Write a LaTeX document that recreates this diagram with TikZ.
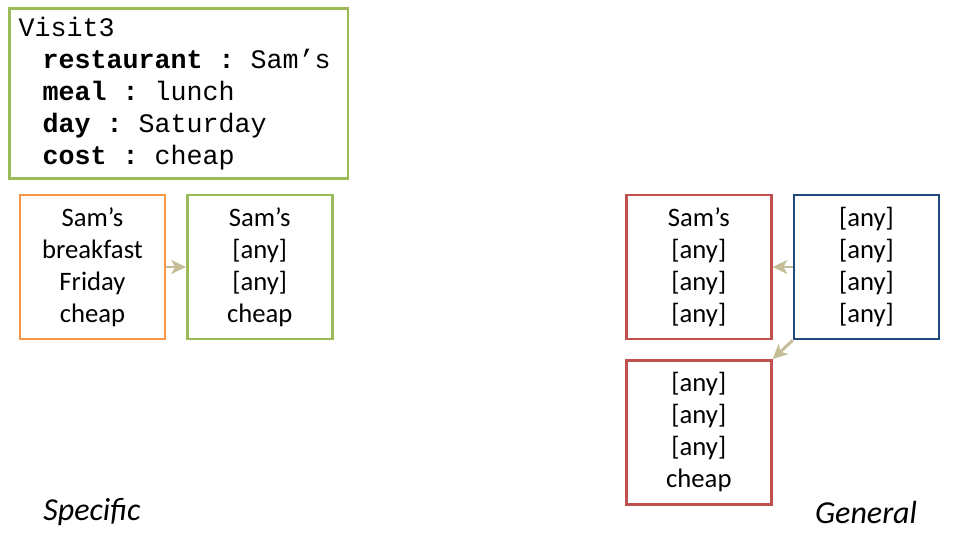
\documentclass[tikz,border=0pt]{standalone}
\usepackage{fontspec}
\setmainfont{Carlito}
\newfontfamily\monofont{Liberation Mono}
\usetikzlibrary{arrows,arrows.meta,calc,positioning}
\definecolor{boxgreen}{HTML}{9BBB59}
\definecolor{boxorange}{HTML}{F79646}
\definecolor{boxred}{HTML}{C0504D}
\definecolor{boxblue}{HTML}{1F497D}
\definecolor{arrowtan}{HTML}{C4BD97}
\newcommand{\slot}[2]{\hspace*{18pt}\textbf{#1}\hspace{12pt}\textbf{:}\hspace{12pt}#2}
\tikzset{
        block/.style = {draw, rectangle, line width=2pt,
            minimum width=108.75pt,
            minimum height=108pt,
            align=center, font=\fontsize{20}{24}\selectfont},
        arrow/.style={draw, -{Stealth[length=11pt,width=10.5pt,inset=3pt]}, arrowtan, line width=2.2pt},
        label/.style = {font=\fontsize{24}{26}\selectfont\itshape},
    }

\begin{document}
\begin{tikzpicture}[x=0.75pt,y=-0.75pt]
        \useasboundingbox (0,0) rectangle (960,540);
        % record
        \node[draw=boxgreen, line width=2pt, anchor=north west,
              minimum width=254pt, minimum height=127.5pt,
              inner xsep=6pt, align=left, text width=240pt,
              font=\monofont\fontsize{20}{24}\selectfont] (visit) at (8,7)
            {Visit3\\
             \slot{restaurant}{Sam’s}\\
             \slot{meal}{lunch}\\
             \slot{day}{Saturday}\\
             \slot{cost}{cheap}};

        % specific side
        \node[block, draw=boxorange] (obs) at (92.5,267) {Sam’s\\breakfast\\Friday\\cheap};
        \node[block, draw=boxgreen, right=14.7pt of obs] (spec) {Sam’s\\{[any]}\\{[any]}\\cheap};

        % general side
        \node[block, draw=boxblue] (gen) at (866.5,267) {{[any]}\\{[any]}\\{[any]}\\{[any]}};
        \node[block, draw=boxred, left=15pt of gen] (gena) {Sam’s\\{[any]}\\{[any]}\\{[any]}};
        \node[block, draw=boxred, below=14pt of gena] (genb) {{[any]}\\{[any]}\\{[any]}\\cheap};

        \draw[arrow] (obs) -- (spec);
        \draw[arrow] (gen) -- (gena);
        \draw[arrow] (gen.south west) -- (genb.north east);

        \node[label] (specific) at (92,512) {Specific};
        \node[label] (general) at (866,512) {General};
    \end{tikzpicture}
\end{document}
